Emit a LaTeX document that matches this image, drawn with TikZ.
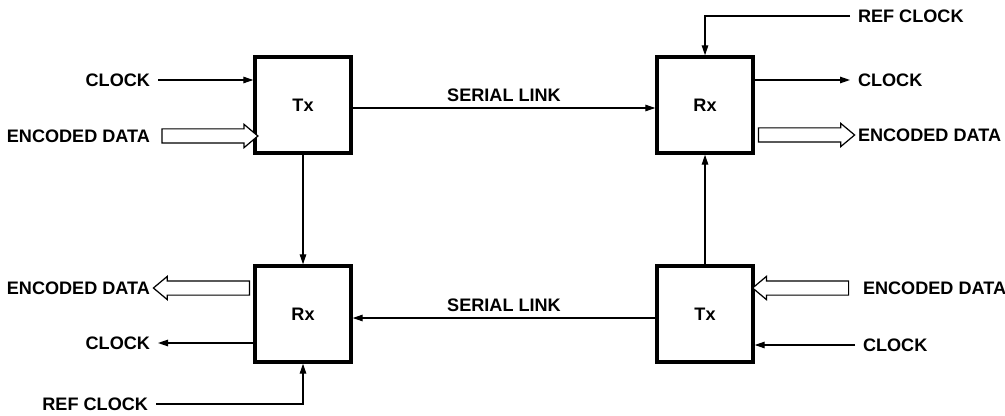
\documentclass[tikz,border=0pt]{standalone}
\usepackage{fontspec}
\setmainfont{Liberation Sans}
\usetikzlibrary{positioning,arrows.meta,shapes.arrows}

\begin{document}
\begin{tikzpicture}[
  x=0.2mm, y=-0.2mm,
  every node/.style={font=\bfseries\fontsize{10.3}{12}\selectfont},
  block/.style={draw, line width=2.2pt, minimum size=19.1mm, inner sep=0pt},
  sigtext/.style={inner sep=0pt, outer sep=1.6mm},
  sig/.style={line width=0.7pt, -{Triangle[length=2mm, width=1.3mm]}},
  bus/.style={single arrow, draw, line width=0.7pt, fill=white,
    minimum height=19.2mm, minimum width=4.4mm, inner xsep=0pt, inner ysep=1.3mm,
    single arrow head extend=0.9mm, single arrow tip angle=80,
    single arrow head indent=0pt, outer sep=0pt}
]
\useasboundingbox (0,0) rectangle (1005,415);

% Layer 1: Transmitter and receiver blocks
\node[block] (txA) at (303,105) {Tx};
\node[block] (rxA) at (705,105) {Rx};
\node[block] (rxB) at (303,314) {Rx};
\node[block] (txB) at (705,314) {Tx};

% Layer 2: Signal labels
\node[sigtext, anchor=east] (clkA) at (158,80) {CLOCK};
\node[sigtext, anchor=east] (encA) at (158,136) {ENCODED DATA};
\node[sigtext, anchor=west] (refA) at (850,16) {REF CLOCK};
\node[sigtext, anchor=west] (clkC) at (850,80) {CLOCK};
\node[sigtext, anchor=west] (encC) at (850,135) {ENCODED DATA};
\node[sigtext, anchor=east] (encB) at (158,288) {ENCODED DATA};
\node[sigtext, anchor=east] (clkB) at (158,343) {CLOCK};
\node[sigtext, anchor=east] (refB) at (156,404) {REF CLOCK};
\node[sigtext, anchor=west] (encD) at (855,288) {ENCODED DATA};
\node[sigtext, anchor=west] (clkD) at (855,345) {CLOCK};

% Serial links
\draw[sig] ([yshift=-0.6mm]txA.east) -- ([yshift=-0.6mm]rxA.west)
  node[midway, above=1.2mm, inner sep=0pt] {SERIAL LINK};
\draw[sig] ([yshift=-0.8mm]txB.west) -- ([yshift=-0.8mm]rxB.east)
  node[midway, above=1.2mm, inner sep=0pt] {SERIAL LINK};
\draw[sig] (txA) -- (rxB);
\draw[sig] (txB) -- (rxA);

% Inputs and outputs - top
\draw[sig] (clkA.east) -- (clkA.east -| txA.west);
\path (encA.east) -- (encA.east -| txA.west) node[bus, midway, sloped, allow upside down] {};
\draw[sig] (refA.west) -| (rxA.north);
\draw[sig] (clkC.west -| rxA.east) -- (clkC.west);
\path (encC.west -| rxA.east) -- (encC.west) node[bus, midway, sloped, allow upside down] {};

% Inputs and outputs - bottom
\path (encB.east -| rxB.west) -- (encB.east) node[bus, midway, sloped, allow upside down] {};
\draw[sig] (clkB.east -| rxB.west) -- (clkB.east);
\draw[sig] (refB.east) -| (rxB.south);
\path (encD.west) -- (encD.west -| txB.east) node[bus, midway, sloped, allow upside down] {};
\draw[sig] (clkD.west) -- (clkD.west -| txB.east);

\end{tikzpicture}
\end{document}
